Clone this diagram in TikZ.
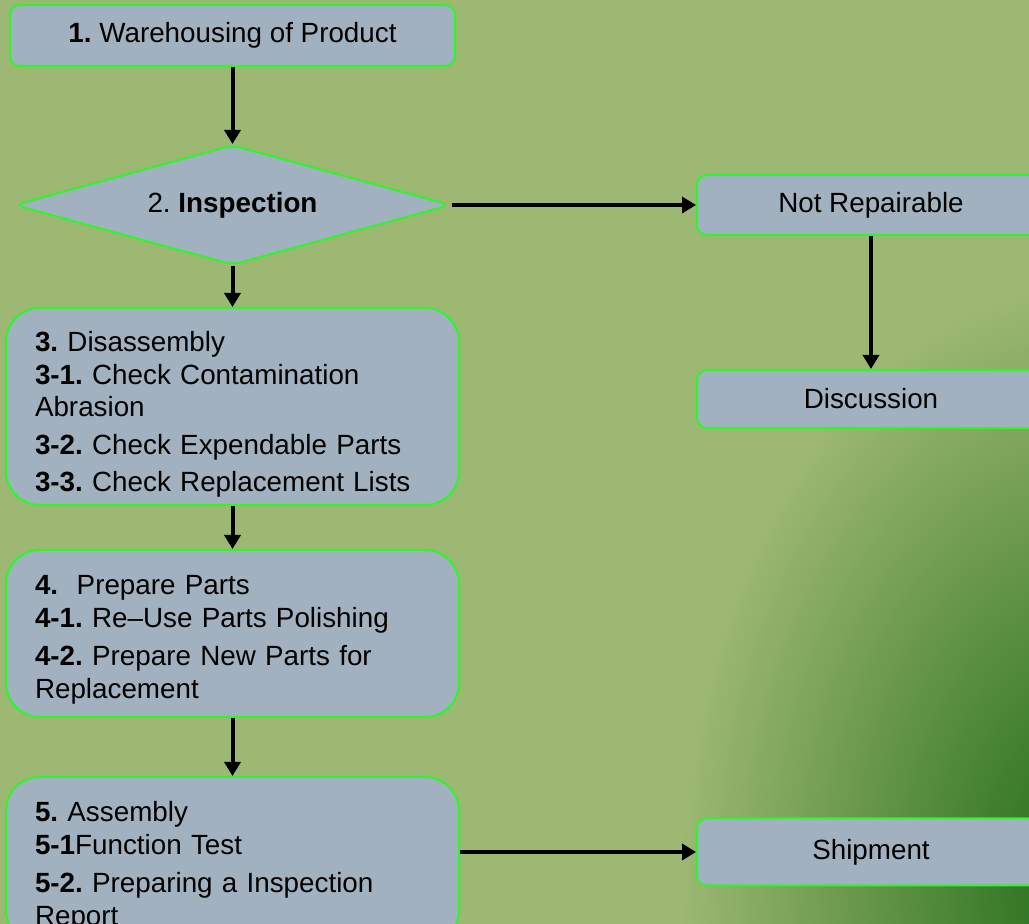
\documentclass[tikz,border=0pt]{standalone}
\usepackage{fontspec}
\setmainfont{Liberation Sans}
\usetikzlibrary{arrows.meta, shapes.geometric}
\frenchspacing
\definecolor{bggreen}{HTML}{9DB872}
\definecolor{darkgreen}{HTML}{1E6A16}
\definecolor{boxfill}{HTML}{A2B1C0}
\definecolor{edgegreen}{HTML}{2EF52E}
\tikzset{
  box/.style = {draw=edgegreen, fill=boxfill, line width=1pt, rounded corners=5pt,
    font=\fontsize{13.9}{16.3}\selectfont},
  stage/.style = {box, rounded corners=17pt, text width=197.5pt, inner xsep=14.5pt,
    align=left, anchor=north},
  sidebox/.style = {box, minimum width=174pt},
  flow/.style = {-{Triangle[width=8pt, length=7pt]}, line width=2pt}
}

\begin{document}
\begin{tikzpicture}[x=0.5pt, y=-0.5pt]

  % Background
  \useasboundingbox (0,0) rectangle (1029,924);
  \fill[bggreen] (0,0) rectangle (1029,924);
  \begin{scope}
    \clip (0,0) rectangle (1029,924);
    \shade[inner color=darkgreen, outer color=bggreen] (1100,880) ellipse (210pt and 300pt);
  \end{scope}

  % Main column
  \node[box, minimum width=222.5pt, minimum height=30.5pt] (ware) at (232.5,35.5)
    {\textbf{1.} Warehousing of Product};
  \node[box, diamond, aspect=3.63, inner sep=0pt, minimum width=218pt, minimum height=60pt]
    (insp) at (232.5,205) {2. \textbf{Inspection}};
  \node[stage, minimum height=98.5pt] (disasm) at (232.5,307)
    {\rule{0pt}{18pt}\textbf{3.} Disassembly\\
     \textbf{3-1.} Check Contamination\\
     Abrasion\\[2.5pt]
     \textbf{3-2.} Check Expendable Parts\\[2.5pt]
     \textbf{3-3.} Check Replacement Lists};
  \node[stage, minimum height=83.5pt] (prep) at (232.5,549)
    {\rule{0pt}{16pt}\textbf{4.}\ \ Prepare Parts\\
     \textbf{4-1.} Re--Use Parts Polishing\\[3pt]
     \textbf{4-2.} Prepare New Parts for\\
     Replacement};
  \node[stage, minimum height=83.5pt] (assem) at (232.5,776)
    {\rule{0pt}{16pt}\textbf{5.} Assembly\\
     \textbf{5-1}Function Test\\[3pt]
     \textbf{5-2.} Preparing a Inspection\\
     Report};

  % Side column
  \node[sidebox, minimum height=30pt] (notrep) at (871,205) {Not Repairable};
  \node[sidebox, minimum height=29pt] (disc) at (871,399) {Discussion};
  \node[sidebox, minimum height=33.5pt] (ship) at (871,852) {Shipment};

  % Arrows
  \draw[flow] (ware) -- (insp);
  \draw[flow] (insp) -- (notrep);
  \draw[flow] (notrep) -- (disc);
  \draw[flow] (insp) -- (disasm);
  \draw[flow] (disasm) -- (prep);
  \draw[flow] (prep) -- (assem);
  \draw[flow] (assem.east |- ship) -- (ship);

\end{tikzpicture}
\end{document}
